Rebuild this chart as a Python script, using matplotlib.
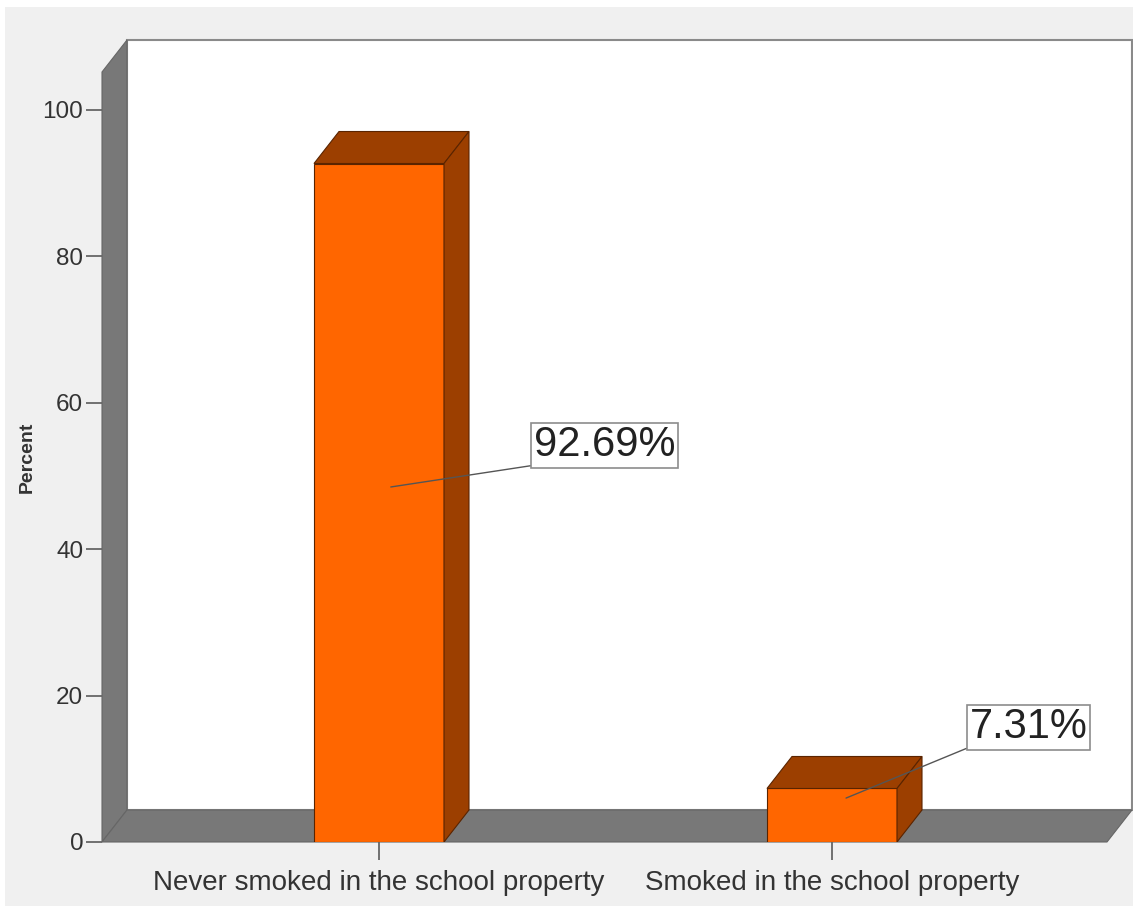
"""SPSS-style 3D bar chart: smoking in school property."""
import matplotlib
matplotlib.use("Agg")
import matplotlib.pyplot as plt
from matplotlib.patches import Polygon, Rectangle

categories = ["Never smoked in the school property", "Smoked in the school property"]
percent = [92.69, 7.31]
value_labels = ["92.69%", "7.31%"]
y_ticks = [0, 20, 40, 60, 80, 100]

FACE = "#ff6600"
DARK = "#9c3f00"
EDGE = "#5a2400"
WALL = "#787878"
BG = "#f0f0f0"

plt.rcParams["font.family"] = ["Liberation Sans", "DejaVu Sans"]

W, H = 1133, 906
fig = plt.figure(figsize=(W / 100, H / 100), dpi=100, facecolor="white")
fig.patches.append(Rectangle((5 / W, 0), 1, (H - 7) / H, transform=fig.transFigure,
                             facecolor=BG, edgecolor="none", zorder=-10))

# front plane of the chart, in pixels
left, right, top, base = 102, 1107, 72, 842
ax = fig.add_axes([left / W, (H - base) / H, (right - left) / W, (base - top) / H])
ax.patch.set_visible(False)
for s in ax.spines.values():
    s.set_visible(False)

px_x = 453.0          # pixels per category step
px_y = 7.32           # pixels per percent
xl = -(379 - left) / px_x
xr = 1 + (right - 832) / px_x
ytop = (base - top) / px_y
ax.set_xlim(xl, xr)
ax.set_ylim(0, ytop)

dx, dy = 25 / px_x, 32 / px_y   # depth offset in data units
bw = 130 / px_x

# back wall, left wall, floor
ax.add_patch(Rectangle((xl + dx, dy), xr - xl, ytop, facecolor="white",
                       edgecolor="#8a8a8a", lw=1.5, clip_on=False, zorder=0))
ax.add_patch(Polygon([(xl, 0), (xl, ytop), (xl + dx, ytop + dy), (xl + dx, dy)],
                     closed=True, facecolor=WALL, edgecolor="#666666", lw=0.8,
                     clip_on=False, zorder=1))
ax.add_patch(Polygon([(xl, 0), (xr, 0), (xr + dx, dy), (xl + dx, dy)],
                     closed=True, facecolor=WALL, edgecolor="#666666", lw=0.8,
                     clip_on=False, zorder=1))

xs = list(range(len(categories)))
ax.bar(xs, percent, width=bw, color=FACE, edgecolor=EDGE, lw=0.8, zorder=3)
for x, v in zip(xs, percent):
    x0, x1 = x - bw / 2, x + bw / 2
    ax.add_patch(Polygon([(x0, v), (x1, v), (x1 + dx, v + dy), (x0 + dx, v + dy)],
                         closed=True, facecolor=DARK, edgecolor=EDGE, lw=0.8, zorder=3))
    ax.add_patch(Polygon([(x1, 0), (x1 + dx, dy), (x1 + dx, v + dy), (x1, v)],
                         closed=True, facecolor=DARK, edgecolor=EDGE, lw=0.8, zorder=3))

# value labels with leader lines
anchors = [(0.026, 48.5), (1.031, 6.0)]
boxes = [(0.498, 54.2), (1.434, 15.7)]
for lab, (ax_x, ax_y), (bx, by) in zip(value_labels, anchors, boxes):
    ax.annotate(lab, xy=(ax_x, ax_y), xytext=(bx, by), textcoords="data",
                ha="center", va="center", fontsize=30, color="#222222", zorder=6,
                bbox=dict(boxstyle="square,pad=0.06", facecolor="white",
                          edgecolor="#8c8c8c", lw=1.2),
                arrowprops=dict(arrowstyle="-", color="#555555", lw=1.0,
                                relpos=(0, 0), shrinkA=0, shrinkB=0))

ax.set_yticks(y_ticks)
ax.set_yticklabels([str(t) for t in y_ticks])
ax.set_xticks(xs)
ax.set_xticklabels(categories)
ax.tick_params(axis="y", length=11.5, width=1.3, color="#666666", pad=2,
               labelsize=17.5, labelcolor="#333333")
ax.tick_params(axis="x", length=13, width=1.3, color="#666666", pad=7,
               labelsize=20, labelcolor="#333333")
ax.set_ylabel("Percent", fontsize=14, fontweight="bold", color="#333333")
ax.yaxis.set_label_coords(-0.066, 0.5)

fig.savefig("out.png", dpi=100, facecolor=fig.get_facecolor())
